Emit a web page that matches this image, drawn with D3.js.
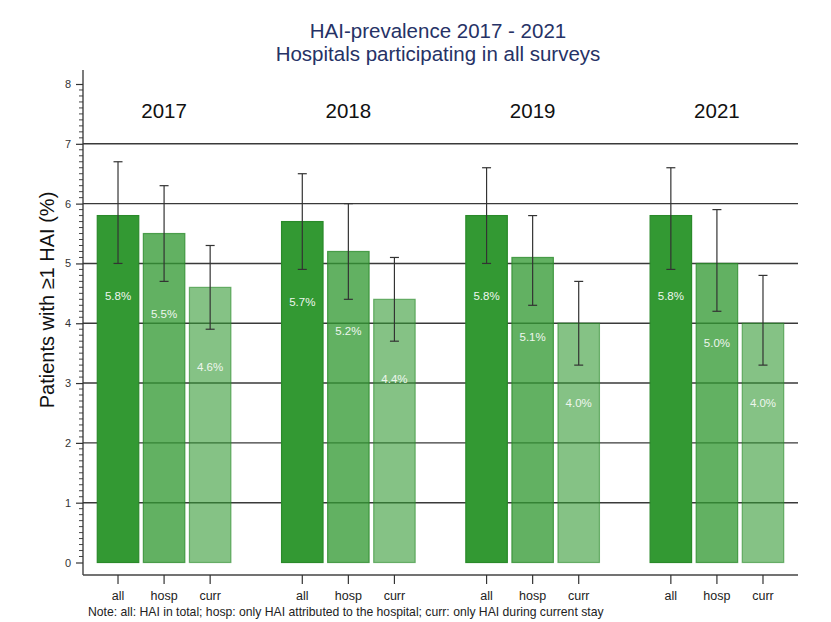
<!DOCTYPE html>
<html><head><meta charset="utf-8">
<script src="https://cdn.jsdelivr.net/npm/d3@7"></script>
<style>body{margin:0;background:#fff;} text{font-family:Arial,"Liberation Sans",sans-serif;}</style>
</head><body>
<svg id="chart" width="831" height="622"></svg>
<script>
const years = ["2017", "2018", "2019", "2021"];
const types = ["all", "hosp", "curr"];
const valuesAll  = [5.8, 5.7, 5.8, 5.8];
const valuesHosp = [5.5, 5.2, 5.1, 5.0];
const valuesCurr = [4.6, 4.4, 4.0, 4.0];
const lowAll  = [5.0, 4.9, 5.0, 4.9];
const highAll = [6.7, 6.5, 6.6, 6.6];
const lowHosp  = [4.7, 4.4, 4.3, 4.2];
const highHosp = [6.3, 6.0, 5.8, 5.9];
const lowCurr  = [3.9, 3.7, 3.3, 3.3];
const highCurr = [5.3, 5.1, 4.7, 4.8];
const yTicks = [0, 1, 2, 3, 4, 5, 6, 7, 8];
const titleLines = ["HAI-prevalence 2017 - 2021", "Hospitals participating in all surveys"];
const yTitle = "Patients with \u22651 HAI (%)";
const note = "Note: all: HAI in total; hosp: only HAI attributed to the hospital; curr: only HAI during current stay";

const vals = {all: valuesAll, hosp: valuesHosp, curr: valuesCurr};
const lows = {all: lowAll, hosp: lowHosp, curr: lowCurr};
const highs = {all: highAll, hosp: highHosp, curr: highCurr};
const data = [];
years.forEach((yr, i) => types.forEach(t => data.push({year: yr, type: t, v: vals[t][i], lo: lows[t][i], hi: highs[t][i]})));

const svg = d3.select("#chart");
const left = 83, right = 798, axisY = 575;
const y = d3.scaleLinear().domain([0, 8]).range([562.5, 84]);
const x0 = d3.scaleBand().domain(years).range([left, right]).paddingInner(0.275).paddingOuter(0.0775);
const x1 = d3.scaleBand().domain(types).range([0, x0.bandwidth()]).paddingInner(0.1);
const alpha = {all: 1, hosp: 0.77, curr: 0.6};

// title
svg.selectAll(".title").data(titleLines).enter().append("text")
  .attr("x", 438).attr("y", (d, i) => 38 + i * 23).attr("text-anchor", "middle")
  .attr("font-size", 20.5).attr("fill", "#263266").text(d => d);

// gridlines
svg.append("g").selectAll("line").data(yTicks.filter(t => t > 0 && t < 8)).enter().append("line")
  .attr("x1", left).attr("x2", right).attr("y1", d => y(d)).attr("y2", d => y(d))
  .attr("stroke", "#3a3a3a").attr("stroke-width", 1.4);

// bars
const g = svg.append("g");
g.selectAll("rect").data(data).enter().append("rect")
  .attr("x", d => x0(d.year) + x1(d.type))
  .attr("y", d => y(d.v))
  .attr("width", x1.bandwidth())
  .attr("height", d => y(0) - y(d.v))
  .attr("fill", "#339933").attr("fill-opacity", d => alpha[d.type])
  .attr("stroke", "#2a8a2a").attr("stroke-opacity", d => alpha[d.type]).attr("stroke-width", 1.2);

// error bars
const eb = svg.append("g").attr("stroke", "#333").attr("stroke-width", 1.2);
data.forEach(d => {
  const cx = x0(d.year) + x1(d.type) + x1.bandwidth() / 2;
  eb.append("line").attr("x1", cx).attr("x2", cx).attr("y1", y(d.lo)).attr("y2", y(d.hi));
  eb.append("line").attr("x1", cx - 4.5).attr("x2", cx + 4.5).attr("y1", y(d.lo)).attr("y2", y(d.lo));
  eb.append("line").attr("x1", cx - 4.5).attr("x2", cx + 4.5).attr("y1", y(d.hi)).attr("y2", y(d.hi));
});

// value labels
svg.append("g").selectAll("text").data(data).enter().append("text")
  .attr("x", d => x0(d.year) + x1(d.type) + x1.bandwidth() / 2)
  .attr("y", d => y(d.v) + 84).attr("text-anchor", "middle")
  .attr("font-size", 11.5).attr("fill", "#eef6ee").text(d => d.v.toFixed(1) + "%");

// year labels
svg.append("g").selectAll("text").data(years).enter().append("text")
  .attr("x", d => x0(d) + x0.bandwidth() / 2).attr("y", 118).attr("text-anchor", "middle")
  .attr("font-size", 20.5).attr("fill", "#111").text(d => d);

// y axis
const yAxis = svg.append("g").attr("transform", `translate(${left},0)`)
  .call(d3.axisLeft(y).tickValues(yTicks).tickSize(7).tickPadding(5).tickFormat(d3.format("d")));
yAxis.select(".domain").remove();
yAxis.selectAll(".tick line").attr("stroke", "#333").attr("stroke-width", 1.2);
yAxis.selectAll(".tick text").attr("font-size", 11).attr("fill", "#333").attr("font-family", "Arial, 'Liberation Sans', sans-serif");
const minor = d3.range(1, 80).filter(i => i % 10 !== 0).map(i => i / 10);
svg.append("g").selectAll("line").data(minor).enter().append("line")
  .attr("x1", left - 4).attr("x2", left).attr("y1", d => y(d)).attr("y2", d => y(d))
  .attr("stroke", "#444").attr("stroke-width", 1);
svg.append("line").attr("x1", left).attr("x2", left).attr("y1", 70).attr("y2", axisY)
  .attr("stroke", "#333").attr("stroke-width", 1.3);

// x axis
svg.append("line").attr("x1", left).attr("x2", right).attr("y1", axisY).attr("y2", axisY)
  .attr("stroke", "#444").attr("stroke-width", 1.3);
const xt = svg.append("g");
data.forEach(d => {
  const cx = x0(d.year) + x1(d.type) + x1.bandwidth() / 2;
  xt.append("line").attr("x1", cx).attr("x2", cx).attr("y1", axisY).attr("y2", axisY + 9).attr("stroke", "#333").attr("stroke-width", 1.2);
  xt.append("text").attr("x", cx).attr("y", axisY + 25).attr("text-anchor", "middle").attr("font-size", 12.5).attr("fill", "#222").text(d.type);
});

// y title
svg.append("text").attr("transform", "translate(54,300) rotate(-90)").attr("text-anchor", "middle")
  .attr("font-size", 20).attr("fill", "#111").text(yTitle);

// note
svg.append("text").attr("x", 88).attr("y", 616).attr("font-size", 12.2).attr("fill", "#222").text(note);
</script>
</body></html>
